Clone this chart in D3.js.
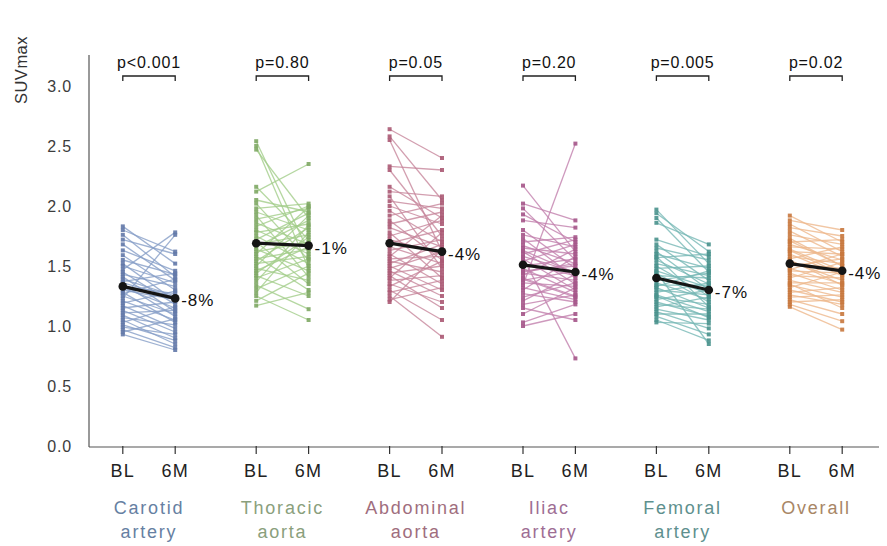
<!DOCTYPE html>
<html>
<head>
<meta charset="utf-8">
<script src="https://cdn.jsdelivr.net/npm/d3@7"></script>
<style>
  html, body { margin: 0; padding: 0; background: #fff; }
  svg { display: block; font-family: "Liberation Sans", Arial, sans-serif; }
</style>
</head>
<body>
<svg id="chart" width="887" height="546"></svg>
<script>
// Regions and their display labels
const regions = ["Carotid artery", "Thoracic aorta", "Abdominal aorta", "Iliac artery", "Femoral artery", "Overall"];
const regionLines = [["Carotid", "artery"], ["Thoracic", "aorta"], ["Abdominal", "aorta"], ["Iliac", "artery"], ["Femoral", "artery"], ["Overall"]];
const timepoints = ["BL", "6M"];
const pValues = ["p<0.001", "p=0.80", "p=0.05", "p=0.20", "p=0.005", "p=0.02"];
const yTicks = [0, 0.5, 1.0, 1.5, 2.0, 2.5, 3.0];

// Group means (BL, 6M) and relative change
const meanBL = [1.33, 1.69, 1.69, 1.51, 1.40, 1.52];
const mean6M = [1.23, 1.67, 1.62, 1.45, 1.30, 1.46];
const changeLabels = ["-8%", "-1%", "-4%", "-4%", "-7%", "-4%"];

// Per-patient SUVmax, baseline and 6 months (paired by index)
const carotidBL = [1.83,1.80,1.76,1.72,1.68,1.63,1.59,1.55,1.52,1.50,1.47,1.45,1.43,1.41,1.39,1.37,1.35,1.33,1.32,1.30,1.28,1.27,1.25,1.23,1.21,1.19,1.17,1.15,1.13,1.11,1.09,1.07,1.05,1.03,1.01,0.99,0.97,0.95,0.93,1.36];
const carotid6M = [1.52,1.62,1.41,1.60,1.38,1.46,1.30,1.43,1.21,1.36,1.78,1.18,1.33,1.12,1.25,1.44,1.08,1.27,1.15,1.22,1.03,1.39,1.10,1.76,1.05,1.29,0.98,1.20,0.95,1.13,0.90,1.01,0.85,1.16,0.88,0.93,0.82,1.06,0.80,1.24];

const thoracicBL = [2.54,2.50,2.47,2.16,2.12,2.05,2.02,1.98,1.95,1.92,1.89,1.86,1.83,1.80,1.78,1.75,1.72,1.70,1.68,1.66,1.64,1.62,1.60,1.58,1.56,1.54,1.52,1.50,1.48,1.46,1.44,1.42,1.40,1.37,1.34,1.31,1.28,1.25,1.21,1.17];
const thoracic6M = [1.62,1.48,1.90,1.72,2.35,1.95,1.55,2.02,1.80,1.41,1.98,1.68,2.00,1.60,1.85,1.52,1.94,1.35,1.76,1.88,1.46,1.70,1.99,1.30,1.64,1.82,1.58,1.92,1.38,1.66,1.74,1.25,1.56,1.84,1.14,1.50,1.78,1.05,1.44,1.28];

const abdominalBL = [2.64,2.58,2.55,2.33,2.30,2.16,2.12,2.08,2.04,2.00,1.96,1.92,1.88,1.85,1.82,1.78,1.75,1.72,1.69,1.66,1.63,1.60,1.58,1.56,1.54,1.52,1.50,1.48,1.46,1.44,1.42,1.40,1.38,1.35,1.33,1.30,1.28,1.25,1.22,1.20];
const abdominal6M = [2.40,2.05,1.62,2.30,1.75,1.90,2.08,1.48,1.98,1.85,1.70,2.02,1.55,1.95,1.66,1.40,1.88,1.60,1.80,1.52,1.72,1.35,1.92,1.58,1.45,1.68,1.30,1.62,1.25,1.50,1.15,1.78,1.42,1.20,1.54,1.05,1.38,0.91,1.32,1.64];

const iliacBL = [2.17,2.02,1.98,1.93,1.88,1.80,1.76,1.73,1.70,1.67,1.65,1.62,1.60,1.58,1.56,1.54,1.52,1.50,1.48,1.46,1.44,1.42,1.40,1.38,1.36,1.34,1.32,1.30,1.27,1.24,1.21,1.18,1.15,1.10,1.03,1.00,1.57,1.45,1.63,1.39];
const iliac6M = [1.62,1.88,1.55,1.70,1.82,1.48,1.66,1.40,1.74,1.52,1.60,1.35,1.72,1.45,1.30,1.68,1.42,1.56,1.28,1.50,1.38,1.64,1.25,1.46,1.33,2.52,1.22,1.58,1.20,1.36,1.43,1.26,1.05,1.32,1.18,1.10,0.73,1.52,1.44,1.24];

const femoralBL = [1.97,1.94,1.90,1.86,1.72,1.68,1.65,1.62,1.60,1.57,1.55,1.52,1.50,1.48,1.46,1.44,1.42,1.40,1.38,1.36,1.34,1.32,1.30,1.28,1.26,1.24,1.22,1.20,1.18,1.16,1.14,1.12,1.10,1.08,1.05,1.03,1.45,1.33,1.58,1.25];
const femoral6M = [1.52,1.62,1.45,1.68,1.58,1.38,1.55,1.30,1.48,1.60,1.35,1.42,1.25,1.50,1.32,1.20,1.40,1.28,1.44,1.22,1.34,1.15,1.26,1.36,1.12,1.18,1.30,1.08,1.14,1.24,1.05,0.98,1.10,0.93,0.88,1.02,0.85,1.46,1.16,1.07];

const overallBL = [1.92,1.88,1.85,1.82,1.79,1.76,1.73,1.70,1.68,1.66,1.64,1.62,1.60,1.58,1.56,1.54,1.52,1.50,1.48,1.46,1.44,1.42,1.40,1.38,1.36,1.34,1.32,1.30,1.28,1.26,1.24,1.22,1.20,1.18,1.16,1.55,1.47,1.63,1.35,1.71];
const overall6M = [1.70,1.80,1.62,1.75,1.58,1.68,1.50,1.72,1.55,1.64,1.46,1.60,1.42,1.52,1.66,1.38,1.48,1.56,1.35,1.44,1.30,1.40,1.53,1.28,1.36,1.24,1.45,1.20,1.32,1.18,1.26,1.10,1.22,1.04,0.97,1.34,1.60,1.43,1.15,1.50];

const blSeries = [carotidBL, thoracicBL, abdominalBL, iliacBL, femoralBL, overallBL];
const m6Series = [carotid6M, thoracic6M, abdominal6M, iliac6M, femoral6M, overall6M];

// Colour per region: connecting lines, end markers, label text
const lineColors  = ["#869dc7", "#a2cd8a", "#c7869b", "#c280ac", "#77b8b5", "#eeb88c"];
const pointColors = ["#6379a8", "#7fa865", "#ab5a74", "#a5568a", "#4a928d", "#c8783e"];
const textColors  = ["#6680a2", "#8aa07c", "#a06e7e", "#9e6e94", "#5e908e", "#a88666"];

const svg = d3.select("#chart");

const y = d3.scaleLinear().domain([0, 3.0]).range([446, 86]);
const xGroup = d3.scaleBand().domain(regions).range([82.3, 882.7]);
const xTime = d3.scalePoint().domain(timepoints).range([-26.2, 26.2]);
const xPos = (i, t) => xGroup(regions[i]) + xGroup.bandwidth() / 2 + xTime(t);

const axisX0 = 89, axisX1 = 879, axisYBottom = 447, axisYTop = 55;

// Y axis
const yAxis = svg.append("g")
  .attr("transform", `translate(${axisX0},0)`)
  .call(d3.axisLeft(y).tickValues(yTicks).tickFormat(d3.format(".1f")).tickSize(0).tickPadding(17));
yAxis.select(".domain").remove();
yAxis.selectAll("text").attr("font-size", 16).attr("fill", "#3c3c3c")
  .attr("letter-spacing", 0.8)
  .attr("font-family", "Liberation Sans, Arial, sans-serif");

svg.append("line")
  .attr("x1", axisX0).attr("x2", axisX0).attr("y1", axisYTop).attr("y2", axisYBottom)
  .attr("stroke", "#555").attr("stroke-width", 1.2);

svg.append("text")
  .attr("transform", `translate(27,70) rotate(-90)`)
  .attr("text-anchor", "middle")
  .attr("font-size", 16.5).attr("fill", "#333")
  .attr("letter-spacing", 0.5)
  .text("SUVmax");

// X axis baseline and ticks
svg.append("line")
  .attr("x1", axisX0).attr("x2", axisX1).attr("y1", axisYBottom).attr("y2", axisYBottom)
  .attr("stroke", "#555").attr("stroke-width", 1.2);

regions.forEach((r, i) => {
  const g = svg.append("g");
  timepoints.forEach(t => {
    const x = xPos(i, t);
    g.append("line").attr("x1", x).attr("x2", x).attr("y1", axisYBottom - 1).attr("y2", axisYBottom + 7)
      .attr("stroke", "#333").attr("stroke-width", 1.2);
    g.append("text").attr("x", x).attr("y", 477).attr("text-anchor", "middle")
      .attr("font-size", 18).attr("letter-spacing", 1.3).attr("fill", "#222").text(t);
  });
  const cx = xGroup(r) + xGroup.bandwidth() / 2;
  regionLines[i].forEach((ln, k) => {
    g.append("text").attr("x", cx).attr("y", 514 + k * 24).attr("text-anchor", "middle")
      .attr("font-size", 18).attr("letter-spacing", 1.8).attr("fill", textColors[i]).text(ln);
  });
});

// Paired patient lines and end markers
regions.forEach((r, i) => {
  const g = svg.append("g");
  const bl = blSeries[i], m6 = m6Series[i];
  const x0 = xPos(i, "BL"), x1 = xPos(i, "6M");
  bl.forEach((v, k) => {
    g.append("line")
      .attr("x1", x0).attr("y1", y(v)).attr("x2", x1).attr("y2", y(m6[k]))
      .attr("stroke", lineColors[i]).attr("stroke-width", 1.3).attr("stroke-opacity", 0.8);
  });
  const s = 4;
  bl.forEach(v => {
    g.append("rect").attr("x", x0 - s / 2).attr("y", y(v) - s / 2).attr("width", s).attr("height", s)
      .attr("fill", pointColors[i]).attr("fill-opacity", 0.9);
  });
  m6.forEach(v => {
    g.append("rect").attr("x", x1 - s / 2).attr("y", y(v) - s / 2).attr("width", s).attr("height", s)
      .attr("fill", pointColors[i]).attr("fill-opacity", 0.9);
  });
});

// Mean lines with percentage change
regions.forEach((r, i) => {
  const g = svg.append("g");
  const x0 = xPos(i, "BL"), x1 = xPos(i, "6M");
  g.append("line")
    .attr("x1", x0).attr("y1", y(meanBL[i])).attr("x2", x1).attr("y2", y(mean6M[i]))
    .attr("stroke", "#151515").attr("stroke-width", 3.2);
  g.append("circle").attr("cx", x0).attr("cy", y(meanBL[i])).attr("r", 4.3).attr("fill", "#151515");
  g.append("circle").attr("cx", x1).attr("cy", y(mean6M[i])).attr("r", 4.3).attr("fill", "#151515");
  g.append("text").attr("x", x1 + 6).attr("y", y(mean6M[i]) + 8)
    .attr("font-size", 17).attr("letter-spacing", 1).attr("fill", "#111").text(changeLabels[i]);
});

// Significance brackets
regions.forEach((r, i) => {
  const g = svg.append("g");
  const x0 = xPos(i, "BL"), x1 = xPos(i, "6M");
  const yb = 76;
  g.append("path")
    .attr("d", `M${x0},${yb + 5}V${yb}H${x1}V${yb + 5}`)
    .attr("fill", "none").attr("stroke", "#222").attr("stroke-width", 1.3);
  g.append("text").attr("x", (x0 + x1) / 2).attr("y", 68).attr("text-anchor", "middle")
    .attr("font-size", 16).attr("letter-spacing", 0.8).attr("fill", "#111").text(pValues[i]);
});
</script>
</body>
</html>
